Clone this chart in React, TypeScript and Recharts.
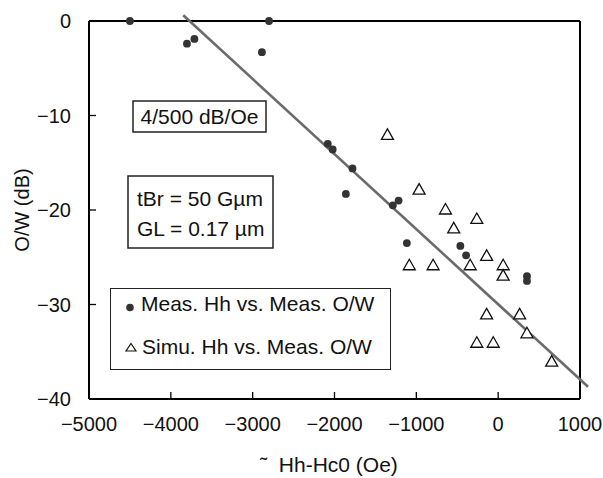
import {
  Legend,
  ReferenceLine,
  Scatter,
  ScatterChart,
  XAxis,
  YAxis,
} from "recharts";

// Hh-Hc0 (Oe) vs O/W (dB)
const measHh = [
  -4500, -3803, -3712, -2800, -2887, -2082, -2022, -1780, -1861, -1287,
  -1217, -1116, -462, -392, 352, 352,
];
const measOW = [
  0, -2.4, -1.9, 0, -3.3, -13.0, -13.6, -15.6, -18.3, -19.5, -19.0, -23.5,
  -23.8, -24.8, -27.0, -27.5,
];

const simuHh = [
  -1353, -966, -644, -543, -261, -1086, -795, -342, -141, 61, 61, -141, 262,
  352, -261, -60, 654,
];
const simuOW = [
  -12.1, -17.9, -20.0, -22.0, -21.0, -25.9, -25.9, -25.9, -24.9, -25.9, -27.0,
  -31.1, -31.1, -33.1, -34.1, -34.1, -36.1,
];

// recta de ajuste (pendiente 4/500 dB/Oe)
const fitHh = [-3848, 1098];
const fitOW = [0.6, -38.7];

const xTicks = [-5000, -4000, -3000, -2000, -1000, 0, 1000];
const yTicks = [0, -10, -20, -30, -40];

const measData = measHh.map((x, i) => ({ x, y: measOW[i] }));
const simuData = simuHh.map((x, i) => ({ x, y: simuOW[i] }));
const fitSegment = fitHh.map((x, i) => ({ x, y: fitOW[i] }));

const FONT = '"Liberation Sans", Arial, sans-serif';

const fmt = (v: number) => (v < 0 ? `\u2212${-v}` : `${v}`);

const Dot = (props: any) => (
  <circle cx={props.cx} cy={props.cy} r={3.9} fill="#333" />
);

const Tri = (props: any) => {
  const { cx, cy } = props;
  return (
    <path
      d={`M${cx},${cy - 6.5}L${cx + 6},${cy + 4}L${cx - 6},${cy + 4}Z`}
      fill="#fff"
      stroke="#111"
      strokeWidth={1.3}
    />
  );
};

function LegendBox() {
  return (
    <div
      style={{
        fontFamily: FONT,
        fontSize: 21,
        color: "#111",
        lineHeight: "24px",
        position: "relative",
        width: "100%",
        height: "100%",
        whiteSpace: "nowrap",
      }}
    >
      <svg width={30} height={80} style={{ position: "absolute", left: 0, top: 0 }}>
        <circle cx={19} cy={18.5} r={3.8} fill="#333" />
        <path d="M20,54.5L25,62L15,62Z" fill="none" stroke="#111" strokeWidth={1.2} />
      </svg>
      <div style={{ position: "absolute", left: 30, top: 3 }}>Meas. Hh vs. Meas. O/W</div>
      <div style={{ position: "absolute", left: 31, top: 46 }}>Simu. Hh vs. Meas. O/W</div>
    </div>
  );
}

export default function App() {
  return (
    <div style={{ position: "absolute", left: 0, top: 0, width: 603, height: 478 }}>
      <ScatterChart
        width={603}
        height={478}
        margin={{ top: 21, right: 23, bottom: 0, left: 0 }}
        style={{ fontFamily: FONT }}
      >
        <XAxis
          type="number"
          dataKey="x"
          domain={[-5000, 1000]}
          ticks={xTicks}
          height={79}
          tickSize={-7}
          tickMargin={25}
          axisLine={{ stroke: "#000", strokeWidth: 2 }}
          tickLine={{ stroke: "#000", strokeWidth: 1.3 }}
          tick={{ fill: "#111", fontSize: 20 }}
          tickFormatter={fmt}
        />
        <YAxis
          type="number"
          dataKey="y"
          domain={[-40, 0]}
          ticks={yTicks}
          width={89}
          tickSize={-7}
          tickMargin={25}
          axisLine={{ stroke: "#000", strokeWidth: 2 }}
          tickLine={{ stroke: "#000", strokeWidth: 1.3 }}
          tick={{ fill: "#111", fontSize: 20 }}
          tickFormatter={fmt}
        />
        <ReferenceLine y={0} stroke="#000" strokeWidth={2} />
        <ReferenceLine x={1000} stroke="#000" strokeWidth={2} />
        <ReferenceLine
          segment={fitSegment}
          ifOverflow="visible"
          stroke="#6b6b6b"
          strokeWidth={2.6}
        />
        <Scatter
          name="Meas. Hh vs. Meas. O/W"
          data={measData}
          shape={Dot}
          isAnimationActive={false}
        />
        <Scatter
          name="Simu. Hh vs. Meas. O/W"
          data={simuData}
          shape={Tri}
          isAnimationActive={false}
        />
        <Legend
          layout="horizontal"
          verticalAlign="middle"
          align="center"
          content={() => <LegendBox />}
          wrapperStyle={{
            left: 110,
            top: 288,
            width: 281,
            height: 82,
            border: "1.5px solid #222",
            boxSizing: "border-box",
            background: "#fff",
          }}
        />
      </ScatterChart>
      <svg
        width={603}
        height={478}
        style={{ position: "absolute", left: 0, top: 0, pointerEvents: "none" }}
        fontFamily={FONT}
        fontSize={21}
        fill="#111"
      >
        <text transform="translate(29,210) rotate(-90)" textAnchor="middle" fontSize={20}>
          O/W (dB)
        </text>
        <text x={329} y={472} textAnchor="middle" xmlSpace="preserve">
          {"˜  Hh-Hc0 (Oe)"}
        </text>
        <rect x={133} y={101} width={133} height={31} fill="#fff" stroke="#222" strokeWidth={1.5} />
        <text x={199.5} y={124} textAnchor="middle">
          4/500 dB/Oe
        </text>
        <rect x={128} y={176} width={145} height={72} fill="#fff" stroke="#222" strokeWidth={1.5} />
        <text x={137} y={206}>tBr = 50 Gµm</text>
        <text x={137} y={236}>GL = 0.17 µm</text>
      </svg>
    </div>
  );
}
